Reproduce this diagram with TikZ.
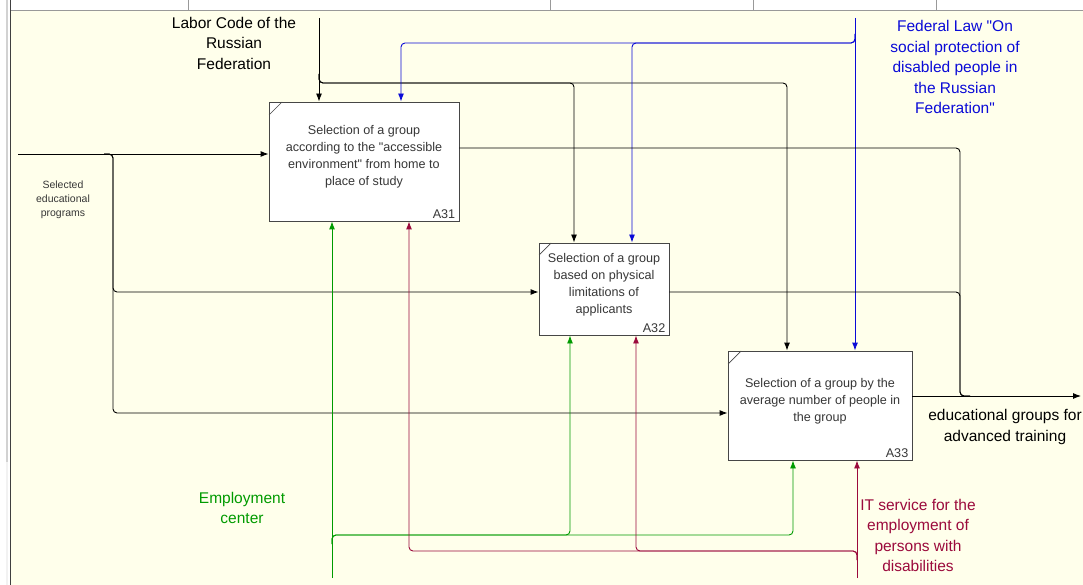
\documentclass[tikz,border=0pt]{standalone}
\usepackage{fontspec}
\setmainfont{Liberation Sans}
\usetikzlibrary{arrows.meta}
\definecolor{bgyellow}{RGB}{255,255,235}
\definecolor{ctlblue}{RGB}{10,10,215}
\definecolor{mechgreen}{RGB}{0,155,0}
\definecolor{mechred}{RGB}{155,10,60}
\definecolor{boxline}{RGB}{70,70,70}
\definecolor{boxtext}{RGB}{55,55,55}
\tikzset{
  actbox/.style={draw=boxline, fill=white, line width=0.9pt, inner sep=0pt},
  boxtxt/.style={align=center, text=boxtext, font=\fontsize{12.6}{17}\selectfont, inner sep=0pt},
  boxnum/.style={text=boxtext, font=\fontsize{12.6}{15}\selectfont, inner sep=0pt, anchor=south east},
  lbl/.style={align=center, font=\fontsize{15.5}{20.5}\selectfont, inner sep=0pt},
  conn/.style={line width=0.9pt, rounded corners=4pt},
  arr/.style={conn, -{Latex[length=8pt,width=6pt]}},
}
\begin{document}
\begin{tikzpicture}[x=1pt,y=-1pt]
\useasboundingbox (0,0) rectangle (1083,585);
% background and frame
\fill[bgyellow] (11,10) rectangle (1083,585);
\fill[white] (11,0) rectangle (1083,10);
\draw[gray!80, line width=0.6pt] (11,10) -- (1083,10);
\foreach \xx in {188,550,753,936} \draw[gray!80, line width=0.6pt] (\xx,0) -- (\xx,10);
\fill[gray!35] (6,0) rectangle (8,462);
\fill[gray!10] (6,462) rectangle (8,585);
\draw[black!75, line width=1pt] (10,0) -- (10,585);

% boxes
\node[actbox, minimum width=190pt, minimum height=119pt] (A31) at (364,161.5) {};
\node[actbox, minimum width=130pt, minimum height=92pt] (A32) at (604,289) {};
\node[actbox, minimum width=184pt, minimum height=109pt] (A33) at (820,405.5) {};
\draw[boxline, line width=0.7pt] (269,115) -- (282,102);
\draw[boxline, line width=0.7pt] (539,255) -- (551,243);
\draw[boxline, line width=0.7pt] (728,364) -- (741,351);

\node[boxtxt] (t31) at (364,157) {Selection of a group\\according to the \textquotedbl accessible\\environment\textquotedbl{} from home to\\place of study};
\node[boxtxt] (t32) at (604,284.5) {Selection of a group\\based on physical\\limitations of\\applicants};
\node[boxtxt] (t33) at (820,401) {Selection of a group by the\\average number of people in\\the group};
\node[boxnum] (n31) at ([xshift=-4pt,yshift=3pt]A31.south east) {A31};
\node[boxnum] (n32) at ([xshift=-4pt,yshift=3pt]A32.south east) {A32};
\node[boxnum] (n33) at ([xshift=-4pt,yshift=3pt]A33.south east) {A33};

% labels
\node[lbl] (labor) at (234,43) {Labor Code of the\\Russian\\Federation};
\node[lbl, text=ctlblue] (fedlaw) at (955,67) {Federal Law \textquotedbl On\\social protection of\\disabled people in\\the Russian\\Federation\textquotedbl};
\node[lbl] (outlbl) at (1005,427) {educational groups for\\advanced training};
\node[lbl, text=mechgreen] (emp) at (242,508) {Employment\\center};
\node[lbl, text=mechred] (its) at (918,535.5) {IT service for the\\employment of\\persons with\\disabilities};
\node[align=center, font=\fontsize{10.5}{14}\selectfont, inner sep=0pt, text=boxtext] (inlbl) at (63,200) {Selected\\educational\\programs};

% coordinates
\coordinate (inS) at (18,154);
\coordinate (inJ) at (104,154);
\coordinate (labS) at (319,18);
\coordinate (labJ) at (319,74);
\coordinate (fedS) at (855,18);
\coordinate (fedJ) at (855,34);
\coordinate (empS) at (332,578);
\coordinate (empJ) at (332,544);
\coordinate (itS) at (857,578);
\coordinate (itJ) at (857,560);
\coordinate (outE) at (1081,396);
\coordinate (outJ) at (970,396);

% input
\draw[arr] (inS) -- (A31.west |- inS);
\draw[arr] (inJ) -- (113,154) -- (113,292) -- (A32.west |- 0,292);
\draw[arr] (inJ) -- (113,154) -- (113,413) -- (A33.west |- 0,413);

% controls
\draw[arr] (labS) -- (A31.north -| labS);
\draw[arr] (labJ) -- (319,83) -- (574,83) -- (A32.north -| 574,0);
\draw[arr] (labJ) -- (319,83) -- (787,83) -- (A33.north -| 787,0);
\draw[arr, ctlblue] (fedS) -- (A33.north -| fedS);
\draw[arr, ctlblue] (fedJ) -- (855,43) -- (632,43) -- (A32.north -| 632,0);
\draw[arr, ctlblue] (fedJ) -- (855,43) -- (401,43) -- (A31.north -| 401,0);

% outputs
\draw[conn] (A31.east |- 0,148) -- (960,148) -- (960,396) -- (outJ);
\draw[conn] (A32.east |- 0,292) -- (960,292) -- (960,396) -- (outJ);
\draw[arr] (A33.east |- outE) -- (outE);

% mechanisms
\draw[arr, mechgreen] (empS) -- (A31.south -| empS);
\draw[arr, mechgreen] (empJ) -- (332,535) -- (570,535) -- (A32.south -| 570,0);
\draw[arr, mechgreen] (empJ) -- (332,535) -- (793,535) -- (A33.south -| 793,0);
\draw[arr, mechred] (itS) -- (A33.south -| itS);
\draw[arr, mechred] (itJ) -- (857,551) -- (636,551) -- (A32.south -| 636,0);
\draw[arr, mechred] (itJ) -- (857,551) -- (409,551) -- (A31.south -| 409,0);
\end{tikzpicture}
\end{document}
